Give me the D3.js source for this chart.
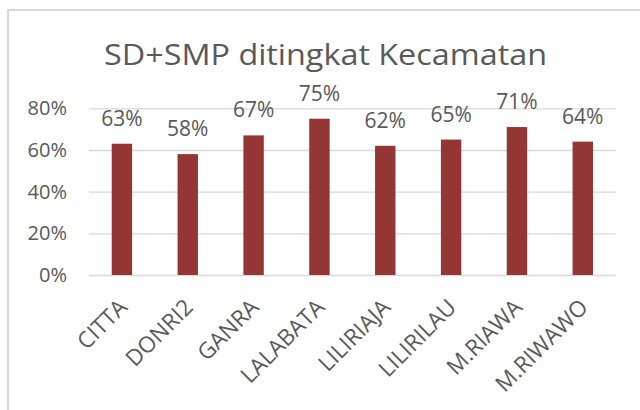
<!DOCTYPE html>
<html>
<head>
<meta charset="utf-8">
<script src="https://cdn.jsdelivr.net/npm/d3@7"></script>
<style>
  html, body { margin: 0; padding: 0; background: #ffffff; }
  svg { display: block; }
</style>
</head>
<body>
<script>
const categories = ["CITTA", "DONRI2", "GANRA", "LALABATA", "LILIRIAJA", "LILIRILAU", "M.RIAWA", "M.RIWAWO"];
const values = [0.63, 0.58, 0.67, 0.75, 0.62, 0.65, 0.71, 0.64];
const yTicks = [0, 0.2, 0.4, 0.6, 0.8];
const title = "SD+SMP ditingkat Kecamatan";

const W = 640, H = 410;
const font = "'Open Sans', 'Noto Sans', sans-serif";
const textColor = "#595959";
const gridColor = "#d9d9d9";
const barColor = "#943634";

const svg = d3.select("body").append("svg").attr("width", W).attr("height", H);

// chart border
svg.append("rect")
  .attr("x", 8).attr("y", 10).attr("width", W + 20).attr("height", H + 20)
  .attr("fill", "#ffffff").attr("stroke", gridColor).attr("stroke-width", 2);

const m = { left: 89, right: 615.7, top: 108.3, bottom: 275 };

const x = d3.scaleBand().domain(categories).range([m.left, m.right]).paddingInner(0.69).paddingOuter(0.345);
const y = d3.scaleLinear().domain([0, 0.8]).range([m.bottom, m.top]);

// title
svg.append("text")
  .attr("x", 325.5).attr("y", 65)
  .attr("text-anchor", "middle")
  .attr("font-family", font).attr("font-size", 30)
  .attr("fill", textColor)
  .attr("textLength", 443).attr("lengthAdjust", "spacingAndGlyphs")
  .text(title);

// y axis (gridlines + labels)
const yAxis = d3.axisLeft(y).tickValues(yTicks).tickFormat(d3.format(".0%")).tickSize(-(m.right - m.left)).tickPadding(22);
const gy = svg.append("g").attr("transform", `translate(${m.left},0)`).call(yAxis);
gy.select(".domain").remove();
gy.selectAll(".tick line").attr("stroke", gridColor).attr("stroke-width", 1.3);
gy.selectAll(".tick text")
  .attr("font-family", font).attr("font-size", 20).attr("fill", textColor);

// bars
svg.append("g").selectAll("rect").data(categories).join("rect")
  .attr("x", d => x(d))
  .attr("width", x.bandwidth())
  .attr("y", (d, i) => y(values[i]))
  .attr("height", (d, i) => y(0) - y(values[i]))
  .attr("fill", barColor);

// data labels
svg.append("g").selectAll("text").data(categories).join("text")
  .attr("x", d => x(d) + x.bandwidth() / 2)
  .attr("y", (d, i) => y(values[i]) - 18)
  .attr("text-anchor", "middle")
  .attr("font-family", font).attr("font-size", 21)
  .attr("fill", textColor)
  .text((d, i) => d3.format(".0%")(values[i]));

// x axis labels
const xAxis = d3.axisBottom(x).tickSize(0).tickPadding(0);
const gx = svg.append("g").attr("transform", `translate(0,${m.bottom})`).call(xAxis);
gx.select(".domain").remove();
gx.selectAll(".tick text")
  .attr("font-family", font).attr("font-size", 22.5).attr("fill", textColor)
  .attr("text-anchor", "end")
  .attr("y", 0).attr("dy", "0.35em")
  .attr("transform", "translate(1,28) rotate(-45)");
</script>
</body>
</html>
